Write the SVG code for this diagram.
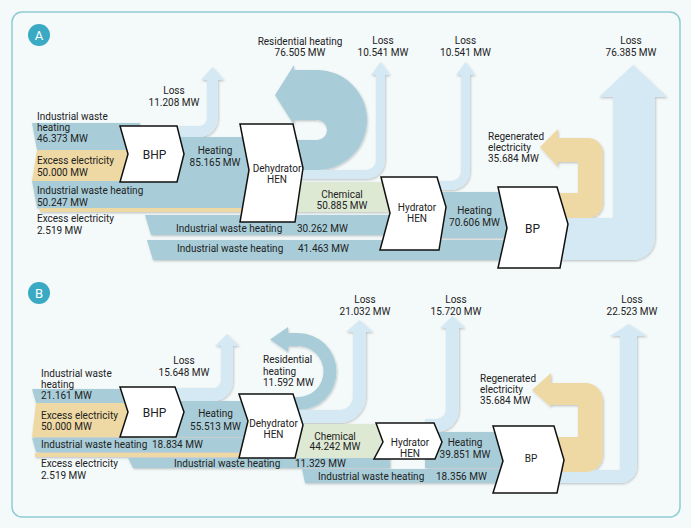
<svg xmlns="http://www.w3.org/2000/svg" width="691" height="528" viewBox="0 0 691 528">
<style>
.bg{fill:#f4f9fa}
.frame{fill:#f4f9fa;stroke:#8ecbd3;stroke-width:1.5}
.blue{fill:#a8cdd8}
.light{fill:#d4e9f3}
.yel{fill:#eed8a3}
.grn{fill:#dee9d4}
.node{fill:#ffffff;stroke:#111;stroke-width:1.5;stroke-linejoin:miter}
text{font-family:Roboto,"Liberation Sans",sans-serif;font-size:10px;fill:#222}
.c{text-anchor:middle}
.big{font-size:12px}
.badge{fill:#3aaac4}
.bt{fill:#fff;font-size:13px;text-anchor:middle}
</style>
<defs>
<filter id="sh" x="-5%" y="-5%" width="110%" height="115%">
<feDropShadow dx="0.8" dy="1.2" stdDeviation="0.8" flood-color="#000" flood-opacity="0.22"/>
</filter>
</defs>
<rect class="bg" x="0" y="0" width="691" height="528"/>
<rect class="frame" x="12" y="12" width="668" height="505" rx="10"/>

<g id="badgeA"><circle class="badge" cx="39" cy="35" r="11"/><text class="bt" x="39" y="40">A</text></g>
<g id="badgeB"><circle class="badge" cx="39" cy="293" r="11"/><text class="bt" x="39" y="298">B</text></g>

<g id="connectors" filter="url(#sh)">
<!-- Panel A -->
<polygon class="blue" points="32,123 140,123 140,150 37,150"/>
<polygon class="yel" points="37,150 140,150 140,181 32,181"/>
<polygon class="blue" points="32,181 260,181 260,208 37,208"/>
<rect class="yel" x="40" y="208" width="220" height="4"/>
<path class="light" d="M170,126 L199,126 A8 8 0 0 0 207,118 L207,80 L201,80 L212.5,67 L224,80 L218,80 L218,118 A19 19 0 0 1 199,137 L170,137 Z"/>
<rect class="blue" x="170" y="137" width="90" height="45"/>
<path class="blue" d="M290,140 L317,140 A10 10 0 0 0 317,120 L294,120 L294,125 L275,95 L294,65 L294,70 L317,70 A50 50 0 0 1 317,170 L290,170 Z"/>
<path class="light" d="M290,170 L366,170 A10 10 0 0 0 376,160 L376,75 L371,75 L380.5,62 L390,75 L385,75 L385,160 A19 19 0 0 1 366,179 L290,179 Z"/>
<rect class="grn" x="290" y="182" width="105" height="30"/>
<polygon class="blue" points="145,215 395,215 395,235 151,235"/>
<polygon class="blue" points="147,240 510,240 510,260 153,260"/>
<path class="light" d="M430,181 L451,181 A10 10 0 0 0 461,171 L461,75 L456,75 L465.5,62 L475,75 L470,75 L470,171 A19 19 0 0 1 451,190 L430,190 Z"/>
<rect class="blue" x="430" y="192" width="80" height="46"/>
<path class="light" d="M550,218 L613,218 L613,97 L599,97 L633,65 L667,97 L655,97 L655,238 A22 22 0 0 1 633,260 L550,260 Z"/>
<path class="yel" d="M550,193 L578,193 L578,162 L558,162 L558,167 L540,147 L558,129 L558,138 L588,138 A15 15 0 0 1 603,153 L603,203 A15 15 0 0 1 588,218 L550,218 Z"/>

<!-- Panel B -->
<polygon class="blue" points="32,389 140,389 140,403 36,403"/>
<polygon class="yel" points="36,403 140,403 140,437 32,437"/>
<polygon class="blue" points="32,438 260,438 260,452 36,452"/>
<rect class="yel" x="35" y="453" width="225" height="4"/>
<path class="light" d="M170,388 L213,388 A8 8 0 0 0 221,380 L221,346 L215,346 L227,334 L239,346 L233,346 L233,381 A20 20 0 0 1 213,401 L170,401 Z"/>
<rect class="blue" x="170" y="401" width="90" height="36"/>
<path class="blue" d="M290,397 L298,397 A25.5 25.5 0 0 0 298,346 L288,346 L288,352 L270,339.5 L288,327 L288,333 L298,333 A38.5 38.5 0 0 1 298,410 L290,410 Z"/>
<path class="light" d="M290,410 L339,410 A14 14 0 0 0 353,396 L353,332 L346,332 L359.5,320 L373,332 L366,332 L366,396 A27 27 0 0 1 339,423 L290,423 Z"/>
<rect class="grn" x="290" y="424" width="100" height="34"/>
<polygon class="blue" points="128,458 390,458 390,468 133,468"/>
<polygon class="blue" points="302,469 505,469 505,483 305,483"/>
<path class="light" d="M425,419 L436,419 A10 10 0 0 0 446,409 L446,328 L440,328 L452.5,316 L465,328 L459,328 L459,409 A23 23 0 0 1 436,432 L425,432 Z"/>
<rect class="blue" x="425" y="432" width="80" height="36"/>
<path class="light" d="M550,470 L620,470 L620,336 L610,336 L628.5,324 L647,336 L637,336 L637,466 A17 17 0 0 1 620,483 L550,483 Z"/>
<path class="yel" d="M550,437 L578,437 L578,405 L551,405 L551,407 L532,390 L551,373 L551,383 L585,383 A18 18 0 0 1 603,401 L603,455 A17 17 0 0 1 586,472 L550,472 Z"/>
</g>

<g id="A-BHP"><polygon class="node" points="120,126 177,126 184,154 177,182 120,182 128,154"/><text class="c big" x="154.5" y="159">BHP</text></g>
<g id="A-Dehydrator"><polygon class="node" points="240,124 293,124 303,168 295,222 240,222 249,170"/><text class="c" x="277" y="172">Dehydrator</text><text class="c" x="277" y="183">HEN</text></g>
<g id="A-Hydrator"><polygon class="node" points="381,177 437,177 446,207 439,250 380,250 390,213"/><text class="c" x="417" y="211">Hydrator</text><text class="c" x="417" y="222">HEN</text></g>
<g id="A-BP"><polygon class="node" points="498,187 557,187 568,224 560,268 498,268 507,228"/><text class="c big" x="532.5" y="233">BP</text></g>

<g id="B-BHP"><polygon class="node" points="120,387 175,387 184,412 176,437 120,437 128,412"/><text class="c big" x="154.5" y="417">BHP</text></g>
<g id="B-Dehydrator"><polygon class="node" points="239,394 293,394 303,425 295,458 239,458 248,421"/><text class="c" x="273.5" y="427">Dehydrator</text><text class="c" x="273.5" y="438">HEN</text></g>
<g id="B-Hydrator"><polygon class="node" points="376,423 434,423 442,442 435,459 374,459 383,442"/><text class="c" x="410" y="446">Hydrator</text><text class="c" x="410" y="457">HEN</text></g>
<g id="B-BP"><polygon class="node" points="493,426 554,426 564,460 557,493 493,493 503,461"/><text class="c" x="531" y="462">BP</text></g>

<g id="labelsA">
<text x="37" y="120">Industrial waste</text><text x="37" y="131">heating</text><text x="37" y="142">46.373 MW</text>
<text x="37" y="164">Excess electricity</text><text x="37" y="176">50.000 MW</text>
<text x="37" y="194">Industrial waste heating</text><text x="37" y="206">50.247 MW</text>
<text x="37" y="222">Excess electricity</text><text x="37" y="234">2.519 MW</text>
<text class="c" x="174" y="94">Loss</text><text class="c" x="174" y="106">11.208 MW</text>
<text class="c" x="215" y="154">Heating</text><text class="c" x="215" y="166">85.165 MW</text>
<text class="c" x="300" y="45">Residential heating</text><text class="c" x="300" y="56">76.505 MW</text>
<text class="c" x="383" y="44">Loss</text><text class="c" x="383" y="56">10.541 MW</text>
<text class="c" x="465.5" y="44">Loss</text><text class="c" x="465.5" y="56">10.541 MW</text>
<text class="c" x="342" y="198">Chemical</text><text class="c" x="342" y="209">50.885 MW</text>
<text x="176" y="232">Industrial waste heating</text><text x="297" y="232">30.262 MW</text>
<text x="177" y="252">Industrial waste heating</text><text x="298" y="252">41.463 MW</text>
<text class="c" x="474.5" y="214">Heating</text><text class="c" x="474.5" y="226">70.606 MW</text>
<text x="488" y="140">Regenerated</text><text x="488" y="151">electricity</text><text x="488" y="162">35.684 MW</text>
<text class="c" x="631" y="44">Loss</text><text class="c" x="631" y="56">76.385 MW</text>
</g>

<g id="labelsB">
<text x="41" y="377">Industrial waste</text><text x="41" y="388">heating</text><text x="41" y="399">21.161 MW</text>
<text x="41" y="419">Excess electricity</text><text x="41" y="430">50.000 MW</text>
<text x="41" y="448">Industrial waste heating</text><text x="152" y="448">18.834 MW</text>
<text x="41" y="467">Excess electricity</text><text x="41" y="479">2.519 MW</text>
<text class="c" x="184" y="364">Loss</text><text class="c" x="184" y="376">15.648 MW</text>
<text class="c" x="215.5" y="417">Heating</text><text class="c" x="215.5" y="430">55.513 MW</text>
<text x="263" y="363">Residential</text><text x="263" y="375">heating</text><text x="263" y="386">11.592 MW</text>
<text class="c" x="365" y="303">Loss</text><text class="c" x="365" y="315">21.032 MW</text>
<text class="c" x="335" y="440">Chemical</text><text class="c" x="335" y="450">44.242 MW</text>
<text x="174" y="467">Industrial waste heating</text><text x="295" y="467">11.329 MW</text>
<text x="318" y="480">Industrial waste heating</text><text x="436" y="480">18.356 MW</text>
<text class="c" x="456" y="303">Loss</text><text class="c" x="456" y="315">15.720 MW</text>
<text class="c" x="465" y="446">Heating</text><text class="c" x="465" y="458">39.851 MW</text>
<text x="480" y="382">Regenerated</text><text x="480" y="393">electricity</text><text x="480" y="404">35.684 MW</text>
<text class="c" x="632" y="303">Loss</text><text class="c" x="632" y="315">22.523 MW</text>
</g>
</svg>
